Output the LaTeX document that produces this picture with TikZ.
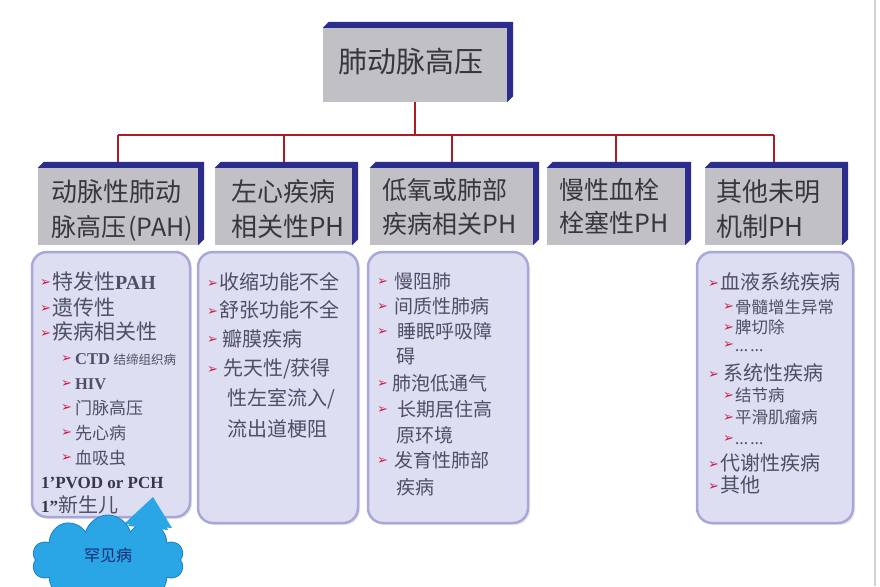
\documentclass[tikz,border=0pt]{standalone}
\usepackage{fontspec}
\setmainfont{Liberation Serif}
\newfontfamily\cjk{Noto Sans CJK SC}
\newfontfamily\dejavu{DejaVu Sans}
\usetikzlibrary{shapes.symbols,shadows}
\definecolor{facegray}{RGB}{192,192,197}
\definecolor{bevelblue}{RGB}{44,44,140}
\definecolor{wire}{RGB}{170,30,35}
\definecolor{lav}{RGB}{222,222,242}
\definecolor{lavedge}{RGB}{168,168,216}
\definecolor{txtgray}{RGB}{55,55,60}
\definecolor{listtxt}{RGB}{78,78,104}
\definecolor{bulred}{RGB}{205,30,75}
\definecolor{cloudblue}{RGB}{42,166,230}
\definecolor{cloudedge}{RGB}{30,125,195}
\definecolor{cloudtxt}{RGB}{25,40,110}
\newcommand\bul{\raisebox{2.5pt}{\dejavu\color{bulred}\fontsize{13}{13}\selectfont ➢}\hspace{1pt}}
\newcommand\lb[1]{{\rmfamily\bfseries #1}}
\newcommand\bevelit[1]{\fill[bevelblue] (#1.north west) -- ([shift={(6,-6)}]#1.north west) -- ([shift={(6,-6)}]#1.north east) -- ([shift={(6,-6)}]#1.south east) -- (#1.south east) -- (#1.north east) -- cycle;}
\tikzset{
  face/.style={fill=facegray, draw=none, inner sep=0pt},
  listbox/.style={fill=lav, draw=lavedge, line width=2.5pt, rounded corners=15pt, inner sep=0pt,
    drop shadow={opacity=0.18, shadow xshift=2pt, shadow yshift=-2pt}},
  wireline/.style={draw=wire, line width=2pt},
  htext/.style={anchor=base west, inner sep=0pt, text=txtgray, font=\cjk\fontsize{26}{26}\selectfont},
  litem/.style={anchor=base west, inner sep=0pt, text=listtxt, font=\cjk\fontsize{20}{20}\selectfont},
  lsub/.style={anchor=base west, inner sep=0pt, text=listtxt, font=\cjk\fontsize{17}{17}\selectfont},
}
\begin{document}
\begin{tikzpicture}[x=1pt,y=-1pt]
\fill[white] (0,0) rectangle (880,586);
\useasboundingbox (0,0) rectangle (880,586);
\draw[black!18, line width=1.5pt] (875,0) -- (875,586);

% faces
\node[face, minimum width=184, minimum height=74] (top) at (415,65) {};
\node[face, minimum width=160, minimum height=77] (b1) at (118,206.5) {};
\node[face, minimum width=137, minimum height=77] (b2) at (283.5,206.5) {};
\node[face, minimum width=163, minimum height=77] (b3) at (451.5,206.5) {};
\node[face, minimum width=138, minimum height=77] (b4) at (616,206.5) {};
\node[face, minimum width=137, minimum height=77] (b5) at (773.5,206.5) {};
\bevelit{top}\bevelit{b1}\bevelit{b2}\bevelit{b3}\bevelit{b4}\bevelit{b5}

% connectors
\coordinate (busL) at (118,135);
\coordinate (busR) at (773.5,135);
\draw[wireline] (busL) -- (busR);
\draw[wireline] (top.south) -- (top.south |- busL);
\foreach \b in {b1,b2,b3,b4,b5}{\draw[wireline] (\b.north |- busL) -- ([yshift=6pt]\b.north);}

% header texts
\node[anchor=base, inner sep=0pt, text=txtgray, font=\cjk\fontsize{29}{29}\selectfont] (topt) at (411,72) {肺动脉高压};
\node[htext] (h1a) at (51,201) {动脉性肺动};
\node[htext, font=\cjk\fontsize{25}{25}\selectfont] (h1b) at (51,236) {脉高压\hspace{2pt}(PAH)};
\node[htext] (h2a) at (231,201) {左心疾病};
\node[htext] (h2b) at (231,236) {相关性PH};
\node[htext, font=\cjk\fontsize{25}{25}\selectfont] (h3a) at (382,199) {低氧或肺部};
\node[htext, font=\cjk\fontsize{25}{25}\selectfont] (h3b) at (382,233) {疾病相关PH};
\node[htext, font=\cjk\fontsize{25}{25}\selectfont] (h4a) at (559,199) {慢性血栓};
\node[htext, font=\cjk\fontsize{25}{25}\selectfont] (h4b) at (559,232) {栓塞性PH};
\node[htext] (h5a) at (716,201) {其他未明};
\node[htext] (h5b) at (716,236) {机制PH};

% list boxes
\node[listbox, minimum width=158, minimum height=265] (L1) at (111,384.5) {};
\node[listbox, minimum width=160, minimum height=271] (L2) at (278,387.5) {};
\node[listbox, minimum width=160, minimum height=271] (L3) at (448,387.5) {};
\node[listbox, minimum width=156, minimum height=271] (L5) at (775,387.5) {};

% list 1
\node[litem, font=\cjk\fontsize{21}{21}\selectfont] (i1a) at (40,289) {\bul 特发性\lb{\fontsize{20}{20}\selectfont PAH}};
\node[litem, font=\cjk\fontsize{21}{21}\selectfont] (i1b) at (40,315) {\bul 遗传性};
\node[litem, font=\cjk\fontsize{21}{21}\selectfont] (i1c) at (40,339.5) {\bul 疾病相关性};
\node[lsub] (i1d) at (61,364.5) {\bul\hspace{2pt}\lb{\fontsize{16.5}{16.5}\selectfont CTD} {\fontsize{12.5}{12.5}\selectfont 结缔组织病}};
\node[lsub] (i1e) at (61,389.5) {\bul\hspace{2pt}\lb{\fontsize{16.5}{16.5}\selectfont HIV}};
\node[lsub] (i1f) at (61,414) {\bul\hspace{2pt}门脉高压};
\node[lsub] (i1g) at (61,439) {\bul\hspace{2pt}先心病};
\node[lsub] (i1h) at (61,464) {\bul\hspace{2pt}血吸虫};
\node[anchor=base west, inner sep=0pt, text=listtxt!70!black, font=\rmfamily\bfseries\fontsize{17}{17}\selectfont] (i1i) at (41,488.5) {1'PVOD or PCH};
\node[litem] (i1j) at (41,512.5) {\lb{\fontsize{17}{17}\selectfont\color{listtxt!70!black}1"}新生儿};

% list 2
\node[litem] (i2a) at (207,289.5) {\bul 收缩功能不全};
\node[litem] (i2b) at (207,317.5) {\bul 舒张功能不全};
\node[litem] (i2c) at (207,346) {\bul\hspace{3pt}瓣膜疾病};
\node[litem] (i2d) at (207,375.5) {\bul\hspace{4pt}先天性/获得};
\node[litem] (i2e) at (227,405.5) {性左室流入/};
\node[litem] (i2f) at (227,436) {流出道梗阻};

% list 3
\node[litem, font=\cjk\fontsize{19}{19}\selectfont] (i3a) at (377,288) {\bul\hspace{5pt}慢阻肺};
\node[litem, font=\cjk\fontsize{19}{19}\selectfont] (i3b) at (377,313) {\bul\hspace{5pt}间质性肺病};
\node[litem, font=\cjk\fontsize{19}{19}\selectfont] (i3c) at (377,338) {\bul\hspace{8pt}睡眠呼吸障};
\node[litem, font=\cjk\fontsize{19}{19}\selectfont] (i3d) at (396,363.5) {碍};
\node[litem, font=\cjk\fontsize{19}{19}\selectfont] (i3e) at (377,390) {\bul\hspace{3pt}肺泡低通气};
\node[litem, font=\cjk\fontsize{19}{19}\selectfont] (i3f) at (377,416) {\bul\hspace{8pt}长期居住高};
\node[litem, font=\cjk\fontsize{19}{19}\selectfont] (i3g) at (396,442) {原环境};
\node[litem, font=\cjk\fontsize{19}{19}\selectfont] (i3h) at (377,467) {\bul\hspace{5pt}发育性肺部};
\node[litem, font=\cjk\fontsize{19}{19}\selectfont] (i3i) at (396,494) {疾病};

% list 5
\node[litem] (i5a) at (708,289.5) {\bul 血液系统疾病};
\node[lsub, font=\cjk\fontsize{16.5}{16.5}\selectfont] (i5b) at (723,313) {\bul 骨髓增生异常};
\node[lsub, font=\cjk\fontsize{16.5}{16.5}\selectfont] (i5c) at (723,333.5) {\bul 脾切除};
\node[lsub] (i5d) at (723,351) {\bul{\rmfamily\bfseries\fontsize{13}{13}\selectfont …\,…}};
\node[litem] (i5e) at (708,380.5) {\bul\hspace{3pt}系统性疾病};
\node[lsub, font=\cjk\fontsize{16.5}{16.5}\selectfont] (i5f) at (723,401.5) {\bul 结节病};
\node[lsub, font=\cjk\fontsize{16.5}{16.5}\selectfont] (i5g) at (723,423.5) {\bul 平滑肌瘤病};
\node[lsub] (i5h) at (723,444.5) {\bul{\rmfamily\bfseries\fontsize{13}{13}\selectfont …\,…}};
\node[litem] (i5i) at (708,470.5) {\bul 代谢性疾病};
\node[litem] (i5j) at (708,492.5) {\bul 其他};

% cloud
\fill[cloudblue] (124,524) -- (153,497) -- (172,528) -- cycle;
\node[cloud, cloud puffs=10, cloud ignores aspect, minimum width=152, minimum height=90,
      fill=cloudblue, draw=cloudedge, line width=0.8pt] (rare) at (108,560) {};
\fill[cloudblue] (128,526) -- (153,499) -- (168,530) -- cycle;
\node[inner sep=0pt, text=cloudtxt, font=\cjk\fontsize{16}{16}\selectfont] (raret) at (108,555) {罕见病};
\end{tikzpicture}
\end{document}
